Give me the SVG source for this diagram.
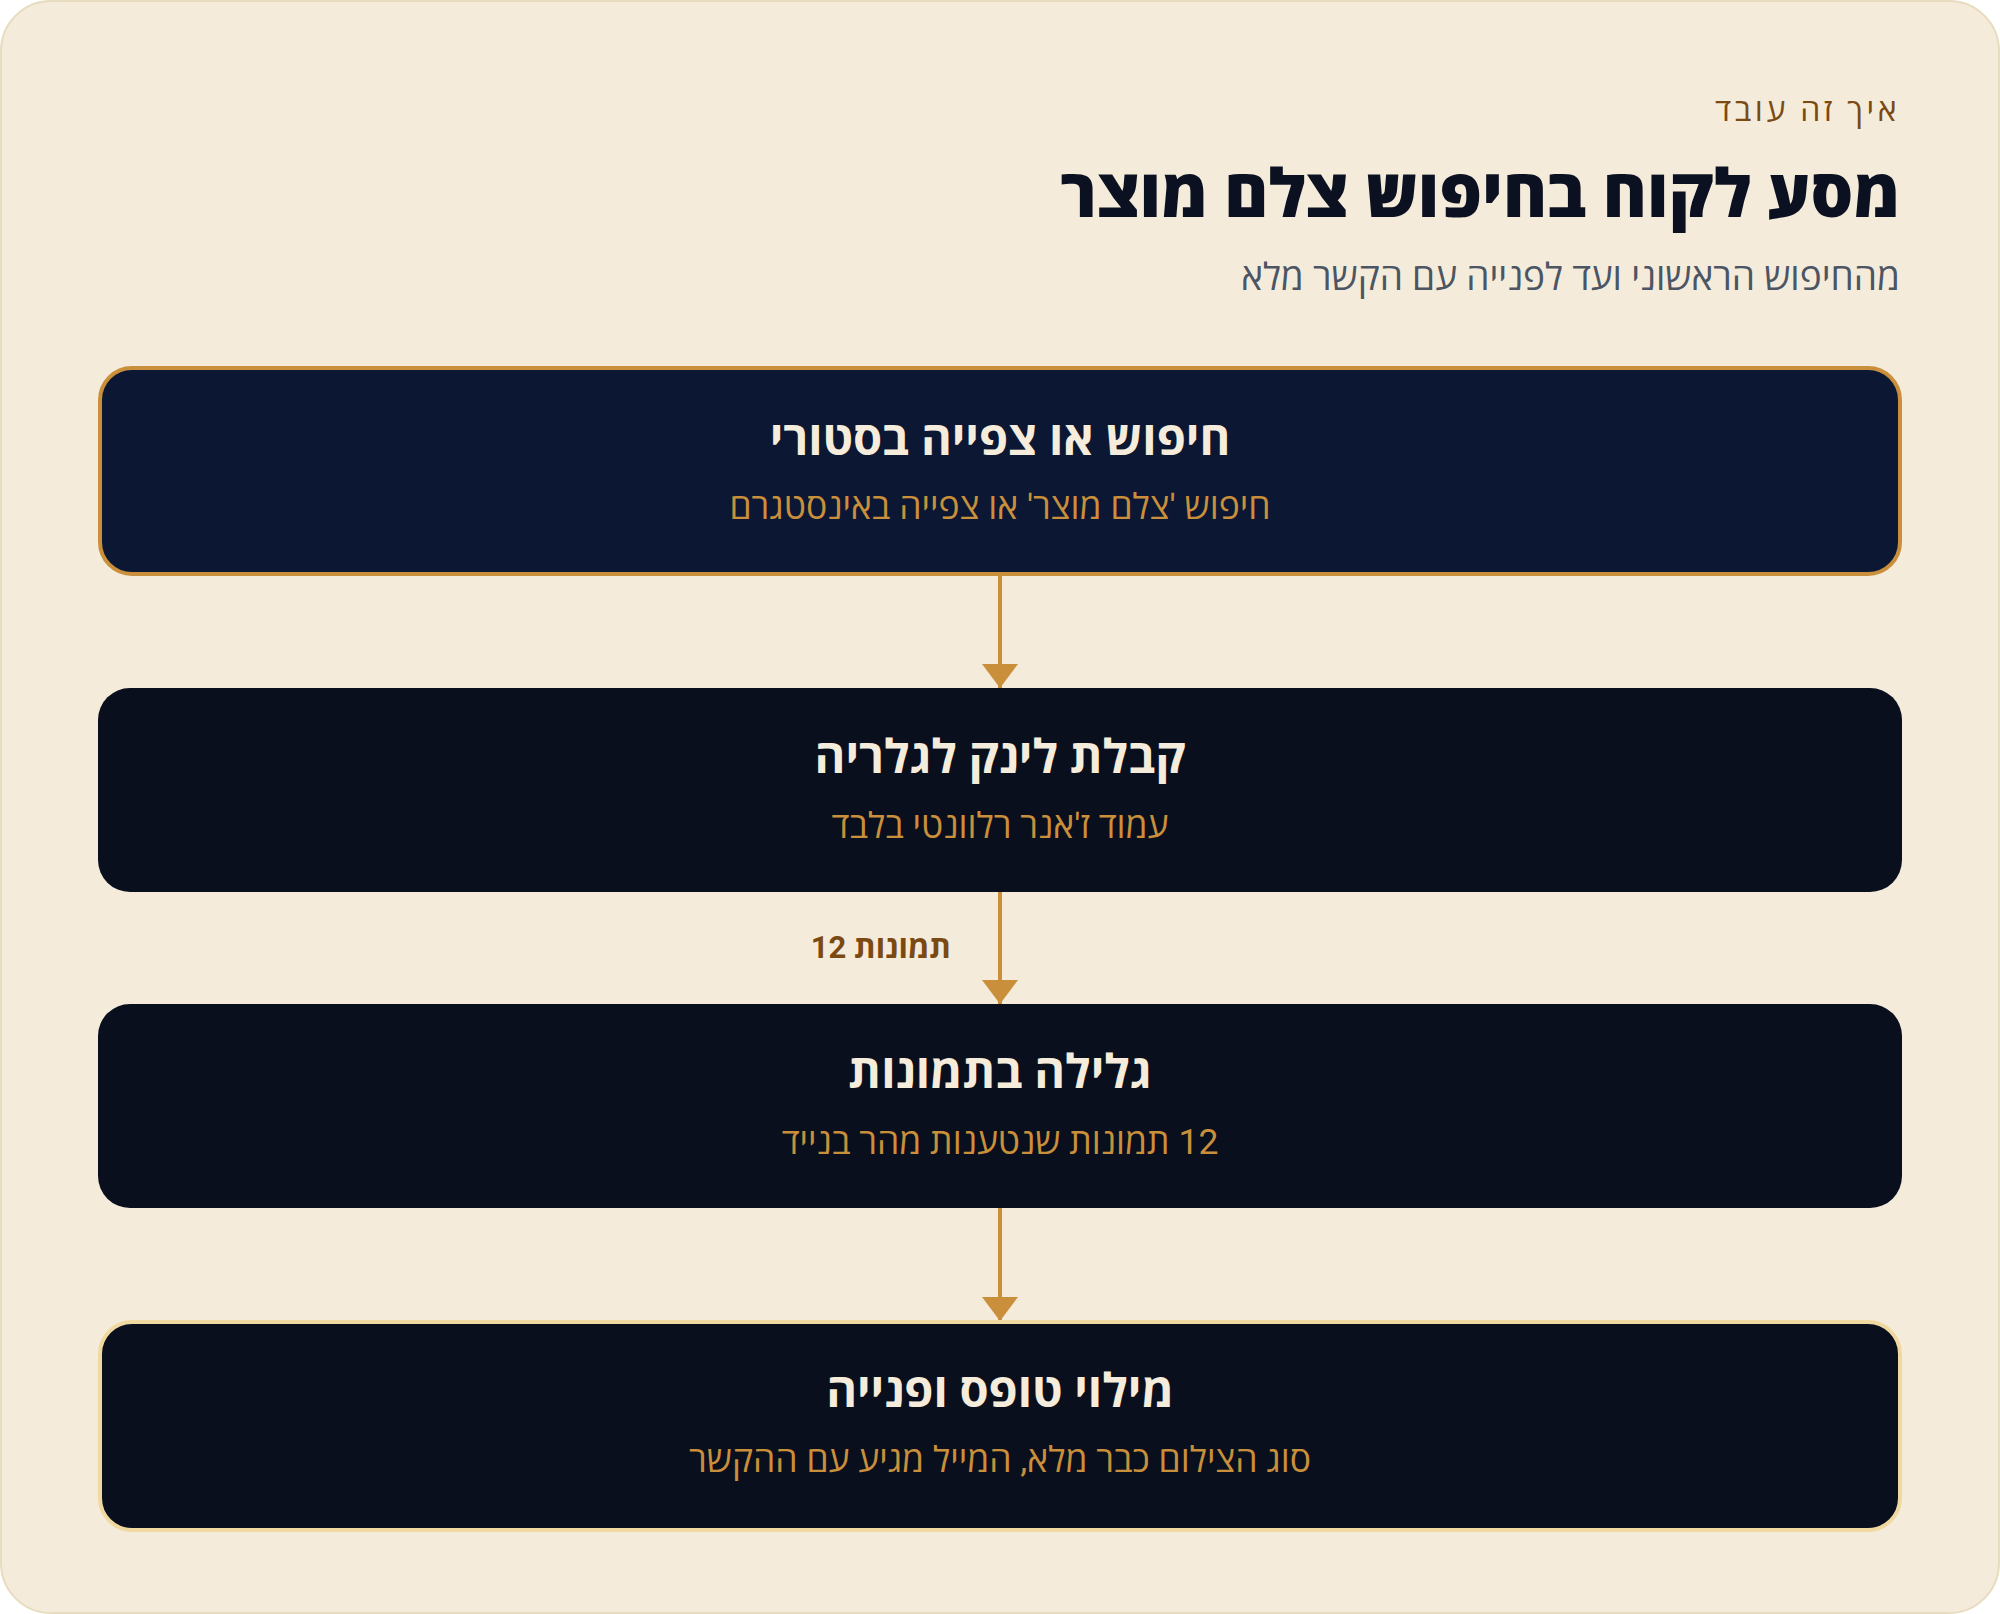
<svg xmlns="http://www.w3.org/2000/svg" width="2000" height="1614" viewBox="0 0 2000 1614">
<defs>
<marker id="arrow" viewBox="0 0 24 36" refX="24" refY="18" markerWidth="24" markerHeight="36" markerUnits="userSpaceOnUse" orient="auto">
<path d="M0,0 L24,18 L0,36 Z" fill="#c98f3b"/>
</marker>
</defs>
<style>
text { font-family: Roboto, "Noto Sans", "Open Sans", sans-serif; }
.node { fill: #0a0f1e; }
.ntitle { fill: #f5ecdc; font-size: 47px; font-weight: 700; text-anchor: middle; direction: rtl; }
.nsub { fill: #c98f3b; font-size: 35.5px; text-anchor: middle; direction: rtl; }
.conn { stroke: #c98f3b; stroke-width: 4; fill: none; marker-end: url(#arrow); }
</style>
<rect x="1" y="1" width="1998" height="1612" rx="50" fill="#f5ebdb" stroke="#e8dcc0" stroke-width="2"/>
<g id="header">
<text x="1900" y="121" fill="#7a4a12" font-size="32" letter-spacing="3.5" text-anchor="end">איך זה עובד</text>
<text x="1900" y="217" fill="#0b1120" font-size="67" font-weight="800" text-anchor="end">מסע לקוח בחיפוש צלם מוצר</text>
<text x="1900" y="290" fill="#4b5563" font-size="37" text-anchor="end">מהחיפוש הראשוני ועד לפנייה עם הקשר מלא</text>
</g>
<g id="connectors">
<path class="conn" d="M1000,576 L1000,688"/>
<path class="conn" d="M1000,892 L1000,1004"/>
<path class="conn" d="M1000,1208 L1000,1321"/>
<text x="951" y="958" fill="#7a4a12" font-size="31" font-weight="700" text-anchor="end">12 תמונות</text>
</g>
<g id="node1">
<rect x="100" y="368" width="1800" height="206" rx="32" fill="#0c1733" stroke="#c98f3b" stroke-width="4"/>
<text class="ntitle" x="1000" y="455">חיפוש או צפייה בסטורי</text>
<text class="nsub" x="1000" y="519">חיפוש 'צלם מוצר' או צפייה באינסטגרם</text>
</g>
<g id="node2">
<rect class="node" x="98" y="688" width="1804" height="204" rx="32"/>
<text class="ntitle" x="1000" y="773">קבלת לינק לגלריה</text>
<text class="nsub" x="1000" y="838">עמוד ז'אנר רלוונטי בלבד</text>
</g>
<g id="node3">
<rect class="node" x="98" y="1004" width="1804" height="204" rx="32"/>
<text class="ntitle" x="1000" y="1088">גלילה בתמונות</text>
<text class="nsub" x="1000" y="1154">12 תמונות שנטענות מהר בנייד</text>
</g>
<g id="node4">
<rect x="100" y="1322" width="1800" height="208" rx="32" fill="#0a0f1e" stroke="#f0d9a0" stroke-width="4"/>
<text class="ntitle" x="1000" y="1407">מילוי טופס ופנייה</text>
<text class="nsub" x="1000" y="1472">סוג הצילום כבר מלא, המייל מגיע עם ההקשר</text>
</g>
</svg>
